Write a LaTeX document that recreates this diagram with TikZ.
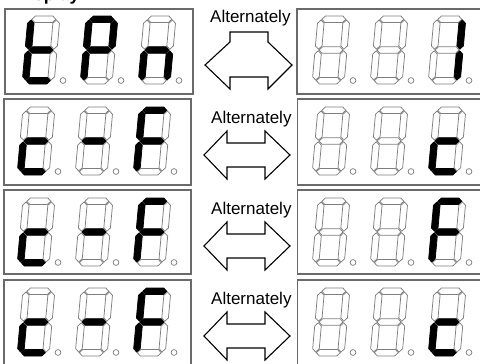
\documentclass[tikz,border=0pt]{standalone}
\usepackage{fontspec}
\setmainfont{Liberation Sans}
\definecolor{boxgray}{HTML}{6A6A6A}
\definecolor{seggray}{HTML}{7E7E7E}
\tikzset{
  boxline/.style={draw=boxgray, line width=1.5pt},
  segoff/.style={draw=seggray, line width=0.75pt, fill=white},
  segon/.style={draw=black, line width=0.75pt, fill=black},
  dotstyle/.style={draw=seggray, line width=0.75pt, fill=white},
  arrowshape/.style={draw=black, line width=1.1pt, fill=white, line join=miter},
  alttext/.style={font=\fontsize{17}{19}\selectfont, anchor=base west, inner sep=0pt},
}
\def\sh{3.3}
\newcommand\hsegm[4]{%
  \path[#1] (#3,#2) -- (#3+\sh,#2+\sh) -- (#4-\sh,#2+\sh) -- (#4,#2) -- (#4-\sh,#2-\sh) -- (#3+\sh,#2-\sh) -- cycle;}
\newcommand\vsegm[4]{%
  \path[#1] (#2,#3) -- (#2+\sh,#3+\sh) -- (#2+\sh,#4-\sh) -- (#2,#4) -- (#2-\sh,#4-\sh) -- (#2-\sh,#3+\sh) -- cycle;}
% x y a b c d e f g
\newcommand\sdigit[9]{%
  \begin{scope}[shift={(#1,-#2)}, xslant=0.09]
   \hsegm{#3}{64.7}{4}{28}
   \vsegm{#4}{28.7}{34.8}{64}
   \vsegm{#5}{28.7}{4}{33.2}
   \hsegm{#6}{3.3}{4}{28}
   \vsegm{#7}{3.3}{4}{33.2}
   \vsegm{#8}{3.3}{34.8}{64}
   \hsegm{#9}{34}{4}{28}
  \end{scope}
  \path[dotstyle] (#1+41,-#2+3.5) circle (2.9pt);}
\newcommand\blankdigit[2]{\sdigit{#1}{#2}{segoff}{segoff}{segoff}{segoff}{segoff}{segoff}{segoff}}
\begin{document}
\begin{tikzpicture}[x=1pt,y=1pt]
\useasboundingbox (0,0) rectangle (480,-364);
\clip (0,0) rectangle (480,-364);
\fill[white] (0,0) rectangle (480,-364);
% partially visible heading
\node[font=\bfseries\fontsize{17.8}{20}\selectfont, anchor=base west, inner sep=0pt] (disp) at (16,-0.3) {Display};
% boxes
\draw[boxline] (5,-9) rectangle (193,-94);
\draw[boxline] (4,-99) rectangle (191,-185);
\draw[boxline] (4,-190) rectangle (191,-274);
\draw[boxline] (4,-280) rectangle (191,-372);
\draw[boxline] (297,-9) rectangle (490,-94);
\draw[boxline] (297.5,-99) rectangle (490,-185);
\draw[boxline] (297.5,-190) rectangle (490,-274);
\draw[boxline] (297.5,-280) rectangle (490,-372);
% row 1 left: t P n
\sdigit{22}{84}{segoff}{segoff}{segoff}{segon}{segon}{segon}{segon}
\sdigit{80}{84}{segon}{segon}{segoff}{segoff}{segon}{segon}{segon}
\sdigit{138}{84}{segoff}{segoff}{segon}{segoff}{segon}{segoff}{segon}
% row 1 right: _ _ 1
\blankdigit{312}{84}
\blankdigit{370}{84}
\sdigit{428}{84}{segoff}{segon}{segon}{segoff}{segoff}{segoff}{segoff}
% rows 2-4 left: c - F
\foreach \yy in {175,266,356}{
  \sdigit{17}{\yy}{segoff}{segoff}{segoff}{segon}{segon}{segoff}{segon}
  \sdigit{75}{\yy}{segoff}{segoff}{segoff}{segoff}{segoff}{segoff}{segon}
  \sdigit{133}{\yy}{segon}{segoff}{segoff}{segoff}{segon}{segon}{segon}
  \blankdigit{312}{\yy}
  \blankdigit{370}{\yy}
}
% right third digits rows 2-4
\sdigit{428}{175}{segoff}{segoff}{segoff}{segon}{segon}{segoff}{segon}
\sdigit{428}{266}{segon}{segoff}{segoff}{segoff}{segon}{segon}{segon}
\sdigit{428}{356}{segoff}{segoff}{segoff}{segon}{segon}{segoff}{segon}
% arrows
\draw[arrowshape] (205,-65) -- (230,-42) -- (230,-32) -- (268,-32) -- (268,-42) -- (292,-65)
  -- (268,-89) -- (268,-77) -- (230,-77) -- (230,-89) -- cycle;
\foreach \T in {99,190,280}{
  \draw[arrowshape] (204,-\T-56) -- (227,-\T-32) -- (227,-\T-44) -- (265,-\T-44) -- (265,-\T-32) -- (290,-\T-56)
    -- (265,-\T-80) -- (265,-\T-68) -- (227,-\T-68) -- (227,-\T-80) -- cycle;
}
% labels
\node[alttext] (alt1) at (210,-22) {Alternately};
\node[alttext] (alt2) at (211,-123) {Alternately};
\node[alttext] (alt3) at (211,-214) {Alternately};
\node[alttext] (alt4) at (211,-304) {Alternately};
\end{tikzpicture}
\end{document}
